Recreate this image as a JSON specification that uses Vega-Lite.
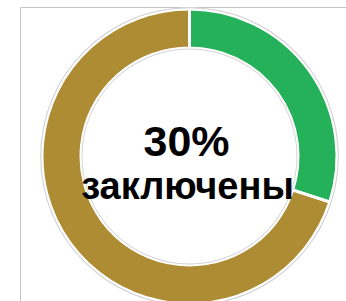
{
  "$schema": "https://vega.github.io/schema/vega-lite/v6.json",
  "width": 339,
  "height": 299,
  "autosize": {"type": "none"},
  "padding": {"left": 20, "top": 7, "right": -13, "bottom": -5},
  "background": "white",
  "view": {"stroke": "#c4c4c4", "strokeWidth": 1},
  "datasets": {
    "slices": [
      {"status": "заключены", "value": 30, "order": 1, "label": "30%"},
      {"status": "не заключены", "value": 70, "order": 2, "label": "70%"}
    ],
    "ring": [{"value": 100}]
  },
  "layer": [
    {
      "data": {"name": "slices"},
      "mark": {"type": "arc", "outerRadius": 147.5, "innerRadius": 108.5, "stroke": "white", "strokeWidth": 3},
      "encoding": {
        "theta": {"field": "value", "type": "quantitative", "stack": true},
        "order": {"field": "order", "type": "quantitative"},
        "color": {
          "field": "status",
          "type": "nominal",
          "scale": {"domain": ["заключены", "не заключены"], "range": ["#25B15A", "#AE8C33"]},
          "legend": null
        }
      }
    },
    {
      "data": {"name": "ring"},
      "mark": {"type": "arc", "outerRadius": 149.3, "innerRadius": 148.3, "fill": "#cfcfcf", "stroke": null},
      "encoding": {"theta": {"field": "value", "type": "quantitative"}}
    },
    {
      "data": {"name": "ring"},
      "mark": {"type": "arc", "outerRadius": 108, "innerRadius": 107, "fill": "#d4d4d4", "stroke": null},
      "encoding": {"theta": {"field": "value", "type": "quantitative"}}
    },
    {
      "data": {"name": "slices"},
      "transform": [{"filter": "datum.order == 1"}],
      "mark": {"type": "text", "font": "Liberation Sans", "fontWeight": "bold", "fontSize": 43, "baseline": "alphabetic", "dx": -3, "dy": -0.5, "color": "black"},
      "encoding": {"text": {"field": "label"}}
    },
    {
      "data": {"name": "slices"},
      "transform": [{"filter": "datum.order == 1"}],
      "mark": {"type": "text", "font": "Liberation Sans", "fontWeight": "bold", "fontSize": 38, "baseline": "alphabetic", "dx": -2, "dy": 42, "color": "black"},
      "encoding": {"text": {"field": "status"}}
    }
  ]
}
